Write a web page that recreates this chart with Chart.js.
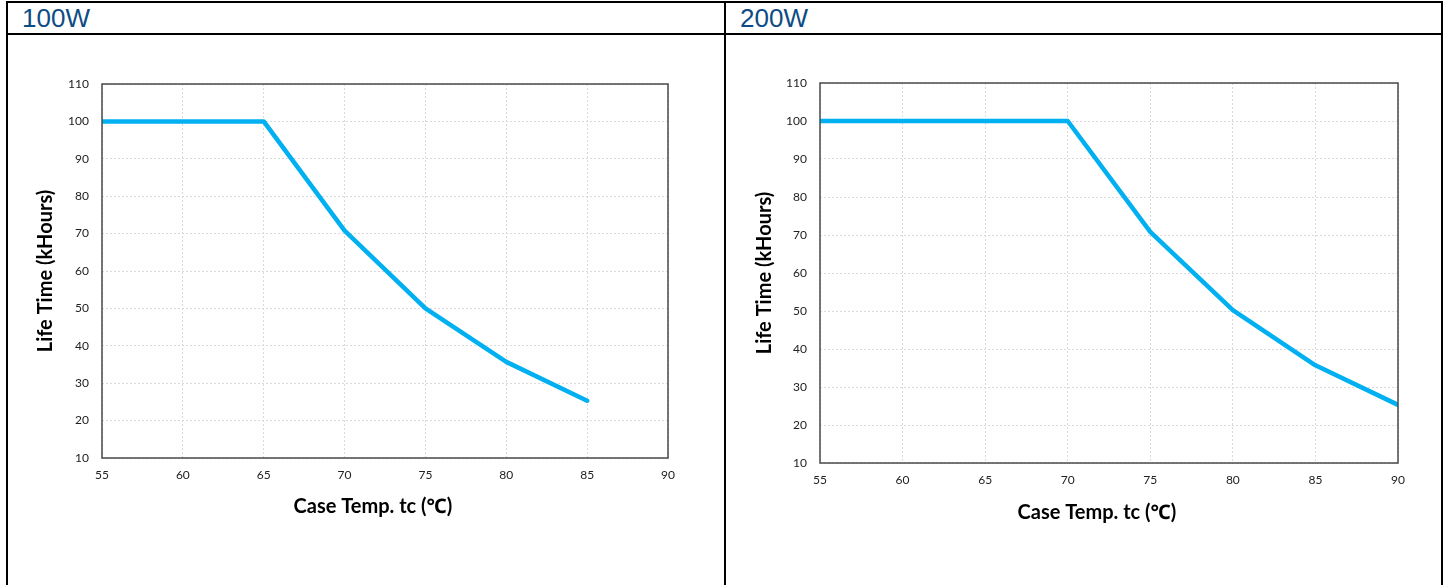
<!DOCTYPE html>
<html>
<head>
<meta charset="utf-8">
<script src="https://cdn.jsdelivr.net/npm/chart.js@4.4.1/dist/chart.umd.min.js"></script>
<style>
  html, body { margin: 0; padding: 0; background: #fff; width: 1448px; height: 585px; overflow: hidden; }
  .frame { position: absolute; left: 6px; top: 1px; width: 1433px; height: 700px; border: 2px solid #000; }
  .hline { position: absolute; left: 6px; top: 33px; width: 1437px; height: 2px; background: #000; }
  .vline { position: absolute; left: 724px; top: 1px; width: 2px; height: 700px; background: #000; }
  .head { position: absolute; top: 3px; font-family: "Liberation Sans", Arial, sans-serif; font-size: 26px; color: #0e4c85; line-height: 30px; }
  canvas { position: absolute; }
</style>
</head>
<body>
<div class="frame"></div>
<div class="hline"></div>
<div class="vline"></div>
<div class="head" style="left:22px">100W</div>
<div class="head" style="left:740px">200W</div>
<div id="w1" style="position:absolute;left:7px;top:35px;width:717px;height:550px"><canvas id="c1"></canvas></div>
<div id="w2" style="position:absolute;left:727px;top:35px;width:714px;height:550px"><canvas id="c2"></canvas></div>
<script>
const temps100 = [55, 60, 65, 70, 75, 80, 85];
const life100 = [100, 100, 100, 70.8, 50, 35.7, 25.3];
const temps200 = [55, 60, 65, 70, 75, 80, 85, 90];
const life200 = [100, 100, 100, 100, 70.8, 50.2, 35.7, 25.3];
const xTicks = [55, 60, 65, 70, 75, 80, 85, 90];
const yTicks = [10, 20, 30, 40, 50, 60, 70, 80, 90, 100, 110];
const xTitle = 'Case Temp. tc (\u2103)\u00a0\u00a0\u00a0\u00a0\u00a0';
const yTitle = 'Life Time (kHours)';

const borderPlugin = {
  id: 'plotBorder',
  afterDraw(chart) {
    const a = chart.chartArea, ctx = chart.ctx;
    ctx.save();
    ctx.strokeStyle = '#4a4a4a';
    ctx.lineWidth = 1.5;
    ctx.strokeRect(a.left, a.top, a.right - a.left, a.bottom - a.top);
    ctx.restore();
  }
};

function makeChart(id, xs, ys, g) {
  const pts = xs.map((x, i) => ({x: x, y: ys[i]}));
  return new Chart(document.getElementById(id), {
    type: 'line',
    data: { datasets: [{ data: pts, borderColor: '#00b0f0', borderWidth: 4.5, pointRadius: 0, tension: 0, fill: false, borderCapStyle: 'round', borderJoinStyle: 'round' }] },
    options: {
      responsive: true, maintainAspectRatio: false, animation: false,
      layout: { padding: { left: g.padL, top: g.padT, right: g.padR, bottom: g.padB } },
      plugins: { legend: { display: false }, tooltip: { enabled: false } },
      scales: {
        x: {
          type: 'linear', min: xTicks[0], max: xTicks[xTicks.length - 1],
          afterBuildTicks: s => { s.ticks = xTicks.map(v => ({value: v})); },
          afterFit: s => { s.height = g.xH; },
          grid: { color: '#d9d9d9', lineWidth: 1, drawTicks: false },
          border: { display: false, dash: [2, 2] },
          ticks: { padding: 10, color: '#222', font: { family: 'Lato, "Open Sans", sans-serif', size: 12 }, maxRotation: 0 },
          title: { display: true, text: xTitle, color: '#000', padding: 0, font: { family: 'Lato, "Noto Sans", "DejaVu Sans", sans-serif', size: 20, weight: 'bold' } }
        },
        y: {
          type: 'linear', min: yTicks[0], max: yTicks[yTicks.length - 1],
          afterBuildTicks: s => { s.ticks = yTicks.map(v => ({value: v})); },
          afterFit: s => { s.width = g.yW; },
          grid: { color: '#d9d9d9', lineWidth: 1, drawTicks: false },
          border: { display: false, dash: [2, 2] },
          ticks: { padding: 13, color: '#222', font: { family: 'Lato, "Open Sans", sans-serif', size: 12 } },
          title: { display: true, text: yTitle, color: '#000', padding: 0, font: { family: 'Lato, "Noto Sans", sans-serif', size: 20, weight: 'bold' } }
        }
      }
    },
    plugins: [borderPlugin]
  });
}

// chart 1: canvas 717x550; plot L95 T49 R661 B423
makeChart('c1', temps100, life100, { padL: 27, padT: 49, padR: 717 - 661, padB: 550 - 484, yW: 95 - 27, xH: 484 - 423 });
// chart 2: canvas 714x550; plot L93 T48 R671 B428
makeChart('c2', temps200, life200, { padL: 26, padT: 48, padR: 714 - 671, padB: 550 - 490, yW: 93 - 26, xH: 490 - 428 });
</script>
</body>
</html>
